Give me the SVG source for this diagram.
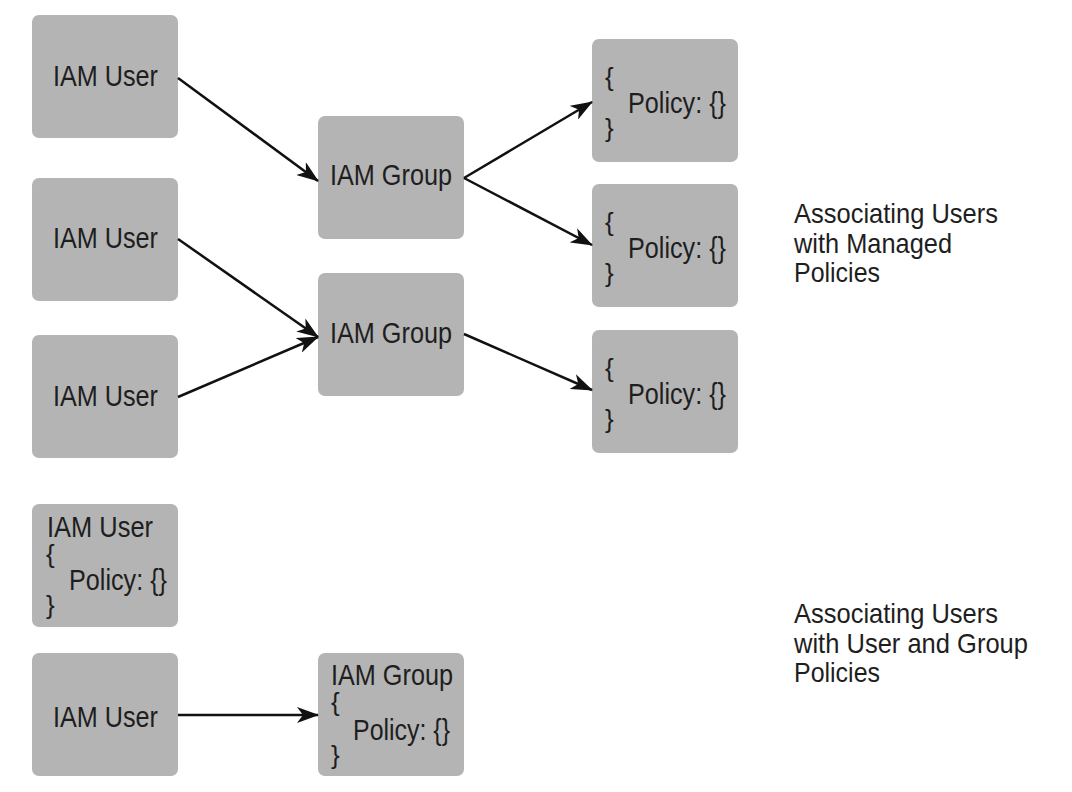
<svg xmlns="http://www.w3.org/2000/svg" width="1072" height="792" viewBox="0 0 1072 792">
<style>
.box{fill:#b4b4b4;}
.t{font-family:"Liberation Sans",Arial,sans-serif;font-size:30px;fill:#1e1e1e;}
.p{font-family:"Liberation Sans",Arial,sans-serif;font-size:29px;fill:#1e1e1e;}
.b{font-family:"Liberation Sans",Arial,sans-serif;font-size:26px;fill:#1e1e1e;}
.ttl{font-family:"Liberation Sans",Arial,sans-serif;font-size:28px;fill:#1e1e1e;}
.c{stroke:#111;stroke-width:2.5;fill:none;marker-end:url(#ah);}
</style>
<defs>
<marker id="ah" viewBox="0 0 22 16" refX="21" refY="8" markerWidth="22" markerHeight="16" markerUnits="userSpaceOnUse" orient="auto">
<path d="M0,0 L22,8 L0,16 L6,8 Z" fill="#111"/>
</marker>
</defs>
<rect width="1072" height="792" fill="#ffffff"/>
<g id="user1"><rect class="box" x="32" y="15" width="146" height="123" rx="7"/><text class="t" x="53" y="86" textLength="105" lengthAdjust="spacingAndGlyphs">IAM User</text></g>
<g id="user2"><rect class="box" x="32" y="178" width="146" height="123" rx="7"/><text class="t" x="53" y="248" textLength="105" lengthAdjust="spacingAndGlyphs">IAM User</text></g>
<g id="user3"><rect class="box" x="32" y="335" width="146" height="123" rx="7"/><text class="t" x="53" y="406" textLength="105" lengthAdjust="spacingAndGlyphs">IAM User</text></g>
<g id="group1"><rect class="box" x="318" y="116" width="146" height="123" rx="7"/><text class="t" x="330" y="185" textLength="122" lengthAdjust="spacingAndGlyphs">IAM Group</text></g>
<g id="group2"><rect class="box" x="318" y="273" width="146" height="123" rx="7"/><text class="t" x="330" y="343" textLength="122" lengthAdjust="spacingAndGlyphs">IAM Group</text></g>
<g id="policy1"><rect class="box" x="592" y="39" width="146" height="123" rx="7"/><text class="b" x="605" y="86">{</text><text class="p" x="628" y="113" textLength="98" lengthAdjust="spacingAndGlyphs">Policy: {}</text><text class="b" x="605" y="137">}</text></g>
<g id="policy2"><rect class="box" x="592" y="184" width="146" height="123" rx="7"/><text class="b" x="605" y="231">{</text><text class="p" x="628" y="258" textLength="98" lengthAdjust="spacingAndGlyphs">Policy: {}</text><text class="b" x="605" y="282">}</text></g>
<g id="policy3"><rect class="box" x="592" y="330" width="146" height="123" rx="7"/><text class="b" x="605" y="377">{</text><text class="p" x="628" y="404" textLength="98" lengthAdjust="spacingAndGlyphs">Policy: {}</text><text class="b" x="605" y="428">}</text></g>
<g id="user4"><rect class="box" x="32" y="504" width="146" height="123" rx="7"/><text class="t" x="47" y="537" textLength="106" lengthAdjust="spacingAndGlyphs">IAM User</text><text class="b" x="46" y="563">{</text><text class="p" x="69" y="590" textLength="98" lengthAdjust="spacingAndGlyphs">Policy: {}</text><text class="b" x="46" y="614">}</text></g>
<g id="user5"><rect class="box" x="32" y="653" width="146" height="123" rx="7"/><text class="t" x="53" y="727" textLength="105" lengthAdjust="spacingAndGlyphs">IAM User</text></g>
<g id="group3"><rect class="box" x="318" y="653" width="146" height="123" rx="7"/><text class="t" x="331" y="685" textLength="122" lengthAdjust="spacingAndGlyphs">IAM Group</text><text class="b" x="331" y="711">{</text><text class="p" x="353" y="740" textLength="97" lengthAdjust="spacingAndGlyphs">Policy: {}</text><text class="b" x="331" y="764">}</text></g>
<g id="connectors">
<line class="c" x1="178" y1="78" x2="318" y2="181"/>
<line class="c" x1="178" y1="239" x2="318" y2="337"/>
<line class="c" x1="178" y1="397" x2="318" y2="337"/>
<line class="c" x1="464" y1="178" x2="592" y2="102"/>
<line class="c" x1="464" y1="178" x2="592" y2="245"/>
<line class="c" x1="464" y1="334" x2="592" y2="390"/>
<line class="c" x1="178" y1="715" x2="318" y2="715"/>
</g>
<g id="labels">
<text class="ttl" x="794" y="223" textLength="204" lengthAdjust="spacingAndGlyphs">Associating Users</text>
<text class="ttl" x="794" y="253" textLength="158" lengthAdjust="spacingAndGlyphs">with Managed</text>
<text class="ttl" x="794" y="282" textLength="86" lengthAdjust="spacingAndGlyphs">Policies</text>
<text class="ttl" x="794" y="623" textLength="204" lengthAdjust="spacingAndGlyphs">Associating Users</text>
<text class="ttl" x="794" y="653" textLength="234" lengthAdjust="spacingAndGlyphs">with User and Group</text>
<text class="ttl" x="794" y="682" textLength="86" lengthAdjust="spacingAndGlyphs">Policies</text>
</g>
</svg>
